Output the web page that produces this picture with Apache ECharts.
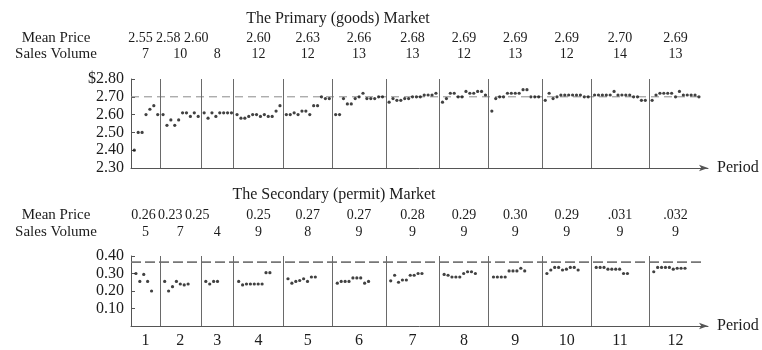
<!DOCTYPE html>
<html>
<head>
<meta charset="utf-8">
<script src="https://cdn.jsdelivr.net/npm/echarts@6/dist/echarts.min.js"></script>
<style>
  html, body { margin: 0; padding: 0; background: #ffffff; }
  #chart { width: 762px; height: 350px; }
</style>
</head>
<body>
<div id="chart"></div>
<script>
// ---- data -------------------------------------------------------------
const periods = ['1', '2', '3', '4', '5', '6', '7', '8', '9', '10', '11', '12'];

// primary (goods) market
const goodsMeanLabels = ['2.55', '2.58', '2.60', '2.60', '2.63', '2.66', '2.68', '2.69', '2.69', '2.69', '2.70', '2.69'];
const goodsVolumes = [7, 10, 8, 12, 12, 13, 13, 12, 13, 12, 14, 13];
const goodsTickValues = [2.30, 2.40, 2.50, 2.60, 2.70, 2.80];
const goodsEquilibrium = 2.70;
const goodsTrades = [
  [2.40, 2.50, 2.50, 2.60, 2.63, 2.65, 2.60],
  [2.60, 2.54, 2.57, 2.54, 2.57, 2.61, 2.61, 2.59, 2.61, 2.59],
  [2.61, 2.58, 2.61, 2.59, 2.61, 2.61, 2.61, 2.61],
  [2.60, 2.58, 2.58, 2.59, 2.60, 2.60, 2.59, 2.60, 2.59, 2.59, 2.62, 2.65],
  [2.60, 2.60, 2.61, 2.60, 2.62, 2.62, 2.60, 2.65, 2.65, 2.70, 2.69, 2.69],
  [2.60, 2.60, 2.69, 2.66, 2.66, 2.69, 2.70, 2.72, 2.69, 2.69, 2.69, 2.70, 2.70],
  [2.67, 2.69, 2.68, 2.68, 2.69, 2.69, 2.70, 2.70, 2.70, 2.71, 2.71, 2.71, 2.72],
  [2.67, 2.69, 2.72, 2.72, 2.70, 2.70, 2.73, 2.72, 2.72, 2.73, 2.73, 2.71],
  [2.62, 2.69, 2.70, 2.70, 2.72, 2.72, 2.72, 2.72, 2.74, 2.74, 2.70, 2.70, 2.70],
  [2.68, 2.72, 2.69, 2.70, 2.71, 2.71, 2.71, 2.71, 2.71, 2.71, 2.70, 2.70],
  [2.71, 2.71, 2.71, 2.71, 2.71, 2.73, 2.71, 2.71, 2.71, 2.71, 2.70, 2.70, 2.68, 2.68],
  [2.68, 2.71, 2.72, 2.72, 2.72, 2.72, 2.70, 2.73, 2.71, 2.71, 2.71, 2.71, 2.70]
];

// secondary (permit) market
const permitMeanLabels = ['0.26', '0.23', '0.25', '0.25', '0.27', '0.27', '0.28', '0.29', '0.30', '0.29', '.031', '.032'];
const permitVolumes = [5, 7, 4, 9, 8, 9, 9, 9, 9, 9, 9, 9];
const permitTickValues = [0, 0.10, 0.20, 0.30, 0.40];
const permitEquilibrium = 0.365;
const permitTrades = [
  [0.30, 0.255, 0.295, 0.255, 0.20],
  [0.255, 0.20, 0.225, 0.255, 0.24, 0.235, 0.24],
  [0.255, 0.24, 0.255, 0.255],
  [0.255, 0.235, 0.24, 0.24, 0.24, 0.24, 0.24, 0.305, 0.305],
  [0.27, 0.245, 0.255, 0.26, 0.27, 0.255, 0.28, 0.28],
  [0.245, 0.255, 0.255, 0.255, 0.275, 0.275, 0.275, 0.245, 0.255],
  [0.258, 0.29, 0.25, 0.263, 0.263, 0.29, 0.29, 0.30, 0.30],
  [0.295, 0.29, 0.28, 0.28, 0.28, 0.30, 0.31, 0.31, 0.30],
  [0.28, 0.28, 0.28, 0.28, 0.315, 0.315, 0.315, 0.33, 0.315],
  [0.30, 0.32, 0.335, 0.335, 0.32, 0.325, 0.335, 0.335, 0.32],
  [0.335, 0.335, 0.335, 0.325, 0.325, 0.325, 0.325, 0.30, 0.30],
  [0.31, 0.335, 0.335, 0.335, 0.335, 0.325, 0.33, 0.33, 0.33]
];

// ---- layout / style ---------------------------------------------------
const FONT = "'Liberation Serif', 'DejaVu Serif', serif";
const INK = '#1c1c1c';
const RULE = '#555555';
const HEAD_SIZE = 14;
const TRADE_STEP = 0.95;     // horizontal spacing of successive trades
const GOODS_LEAD = 0.8;      // gap between period divider and first trade
const PERMIT_LEAD = 1.2;
// px nudges for the crowded first columns of the mean-price rows
const GOODS_MEAN_SHIFT = [-5, -12, -21, 0, 0, 0, 0, 0, 0, 0, 0, 0];
const PERMIT_MEAN_SHIFT = [-2, -10, -20, 0, 0, 0, 0, 0, 0, 0, 0, 0];
const X_MAX = 140.4;

// period boundaries on the trade-count axis (driven by goods volumes)
const bounds = [0];
goodsVolumes.forEach(v => bounds.push(bounds[bounds.length - 1] + v));
const totalTrades = bounds[bounds.length - 1];
const dividers = bounds.slice(1, -1);
const centers = periods.map((_, i) => (bounds[i] + bounds[i + 1]) / 2);

function nearestPeriod(v) {
  let best = 0;
  centers.forEach((c, i) => { if (Math.abs(c - v) < Math.abs(centers[best] - v)) best = i; });
  return best;
}

function tradePoints(trades, lead) {
  const pts = [];
  trades.forEach((list, p) => {
    list.forEach((price, j) => pts.push([bounds[p] + lead + j * TRADE_STEP, price]));
  });
  return pts;
}

function shiftedRich(shifts) {
  const rich = {};
  shifts.forEach((s, i) => {
    rich['m' + i] = { fontFamily: FONT, fontSize: HEAD_SIZE, color: INK,
      padding: s < 0 ? [0, -2 * s, 0, 0] : [0, 0, 0, 2 * s] };
  });
  return rich;
}

function headerAxis(grid, offset, labels, shifts) {
  return {
    type: 'value', gridIndex: grid, position: 'top', offset: offset,
    min: 0, max: X_MAX,
    axisLine: { show: false }, axisTick: { show: false }, splitLine: { show: false },
    axisLabel: {
      customValues: centers, margin: 0, fontFamily: FONT, fontSize: HEAD_SIZE, color: INK,
      formatter: v => {
        const i = nearestPeriod(v);
        return shifts ? '{m' + i + '|' + labels[i] + '}' : String(labels[i]);
      },
      rich: shifts ? shiftedRich(shifts) : {}
    }
  };
}

function mainXAxis(grid, withPeriods) {
  return {
    type: 'value', gridIndex: grid, position: 'bottom',
    min: 0, max: X_MAX,
    name: 'Period', nameLocation: 'end', nameGap: 9,
    nameTextStyle: { fontFamily: FONT, fontSize: 16, color: INK, verticalAlign: 'middle', align: 'left', padding: [4, 0, 0, 0] },
    axisLine: { show: true, lineStyle: { color: RULE, width: 1 }, symbol: ['none', 'arrow'], symbolSize: [5, 9] },
    axisTick: { show: false },
    splitLine: { show: false },
    axisLabel: withPeriods ? {
      customValues: centers, margin: 7, fontFamily: FONT, fontSize: 16, color: INK,
      formatter: v => periods[nearestPeriod(v)]
    } : { show: false }
  };
}

function priceAxis(grid, ticks, fmt) {
  return {
    type: 'value', gridIndex: grid,
    min: ticks[0], max: ticks[ticks.length - 1],
    interval: +(ticks[1] - ticks[0]).toFixed(2),
    axisLine: { show: true, lineStyle: { color: RULE, width: 1 } },
    axisTick: { show: true, inside: true, length: 4, lineStyle: { color: RULE } },
    splitLine: { show: false },
    axisLabel: { margin: 7, fontFamily: FONT, fontSize: 16, color: INK, formatter: fmt }
  };
}

function marketSeries(axisIdx, points, reference, dashStyle) {
  return [
    {
      type: 'line', xAxisIndex: axisIdx, yAxisIndex: axisIdx === 0 ? 0 : 1,
      data: [[0, reference], [totalTrades, reference]],
      symbol: 'none', silent: true, z: 2,
      lineStyle: dashStyle
    },
    {
      type: 'scatter', xAxisIndex: axisIdx, yAxisIndex: axisIdx === 0 ? 0 : 1,
      data: points, symbol: 'circle', symbolSize: 3.2, z: 5,
      itemStyle: { color: '#111111' },
      markLine: {
        silent: true, symbol: ['none', 'none'], label: { show: false },
        lineStyle: { color: '#6a6a6a', width: 1, type: 'solid' },
        data: dividers.map(b => ({ xAxis: b }))
      }
    }
  ];
}

const chart = echarts.init(document.getElementById('chart'), null, { renderer: 'canvas' });

const textEl = (txt, x, y, size) => ({
  type: 'text', x: x, y: y,
  style: { text: txt, font: size + 'px ' + FONT, fill: INK,
    align: 'center', verticalAlign: 'middle', textAlign: 'center', textVerticalAlign: 'middle' }
});

chart.setOption({
  backgroundColor: '#ffffff',
  animation: false,
  grid: [
    { left: 131, width: 577, top: 79, height: 89 },
    { left: 131, width: 577, top: 256, height: 70 }
  ],
  xAxis: [
    mainXAxis(0, false),
    mainXAxis(1, true),
    headerAxis(0, 34, goodsMeanLabels, GOODS_MEAN_SHIFT),
    headerAxis(0, 18, goodsVolumes, null),
    headerAxis(1, 34, permitMeanLabels, PERMIT_MEAN_SHIFT),
    headerAxis(1, 17, permitVolumes, null)
  ],
  yAxis: [
    priceAxis(0, goodsTickValues, v => (Math.abs(v - goodsTickValues[goodsTickValues.length - 1]) < 1e-6 ? '$' : '') + v.toFixed(2)),
    priceAxis(1, permitTickValues, v => (Math.abs(v) < 1e-6 ? '' : v.toFixed(2)))
  ],
  series: [
    ...marketSeries(0, tradePoints(goodsTrades, GOODS_LEAD), goodsEquilibrium,
      { color: '#8a8a8a', width: 1, type: [8, 5] }),
    ...marketSeries(1, tradePoints(permitTrades, PERMIT_LEAD), permitEquilibrium,
      { color: '#777777', width: 1.6, type: [10, 4] })
  ],
  graphic: [
    textEl('The Primary (goods) Market', 338, 19, 16),
    textEl('Mean Price', 56, 38, 15),
    textEl('Sales Volume', 56, 54, 15),
    textEl('The Secondary (permit) Market', 334, 195, 16),
    textEl('Mean Price', 56, 215, 15),
    textEl('Sales Volume', 56, 232, 15)
  ]
});
</script>
</body>
</html>
